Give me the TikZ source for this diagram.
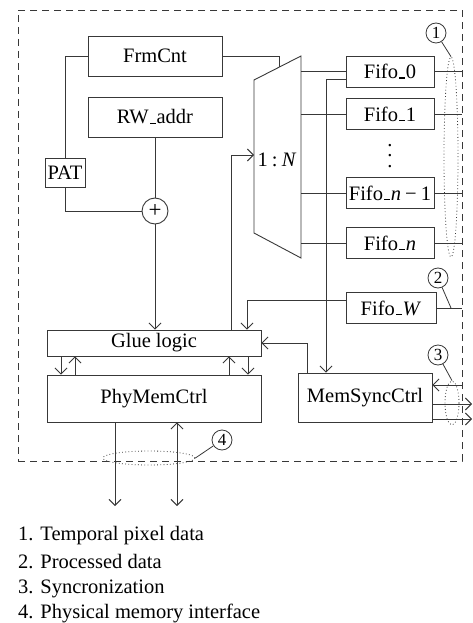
\documentclass[tikz,border=0pt]{standalone}
\usepackage{fontspec}
\setmainfont{Liberation Serif}
\usetikzlibrary{arrows.meta, shapes.geometric, calc}
\newcommand{\usc}{\leavevmode\kern.06em\vbox{\hrule width.3em height.07em}\kern.02em}

\begin{document}
\begin{tikzpicture}[
    x=1pt, y=-1pt,
    font=\fontsize{20.5}{24}\selectfont,
    wire/.style={draw=black!78, line width=0.9pt},
    blk/.style={draw=black!78, line width=0.9pt, inner sep=0pt, minimum width=134pt},
    fifo/.style={blk, minimum width=88pt, minimum height=31pt},
    tag/.style={circle, draw=black!78, line width=0.8pt, inner sep=0pt, minimum size=20pt, font=\fontsize{17}{19}\selectfont},
    ring/.style={ellipse, draw=black!78, line width=0.8pt, dash pattern=on 0.8pt off 2.4pt, inner sep=0pt},
    legend/.style={anchor=base west, inner sep=0pt},
    >={Straight Barb[length=6pt, width=12pt]}
]
    \useasboundingbox (0,0) rectangle (473,623);
    \node[draw=black!78, line width=0.9pt, dash pattern=on 7pt off 5pt, inner sep=0pt,
        minimum width=444pt, minimum height=451pt] (chip) at (240,235.5) {};

    \node[blk, minimum height=40pt] (frm) at (155,56)  {FrmCnt};
    \node[blk, minimum height=40pt] (rw)  at (155,117) {RW\usc addr};
    \node[blk, minimum width=40pt, minimum height=29pt] (pat) at (65,172.5) {PAT};
    \node[circle, draw=black!78, line width=0.9pt, minimum size=26pt, inner sep=0pt,
        font=\fontsize{23}{24}\selectfont] (plus) at (155,211) {+};
    \node[blk, minimum width=214pt, minimum height=26pt] (glue) at (154,343)   {Glue logic};
    \node[blk, minimum width=214pt, minimum height=47pt] (phy)  at (154,398.5) {PhyMemCtrl};

    \coordinate (muxTL) at (254,80);
    \coordinate (muxTR) at (301,56);
    \coordinate (muxBR) at (301,258);
    \coordinate (muxBL) at (254,233);
    \draw[wire] (muxTL) -- (muxTR) -- (muxBR) -- (muxBL) -- cycle;
    \node[inner sep=0pt] (muxlbl) at (277,160) {1\hspace{0.2em}:\hspace{0.2em}\textit{N}};
    \coordinate (muxtop) at ($(muxTL)!0.55!(muxTR)$);
    \coordinate (muxin) at (254,155);

    \node[fifo] (fifo0)  at (390,71.5) {Fifo\usc 0};
    \node[fifo] (fifo1)  at (390,114)  {Fifo\usc 1};
    \node[align=center, inner sep=0pt, font=\fontsize{20.5}{10.5}\selectfont] (vdots) at (390,156) {.\\.\\.};
    \node[fifo] (fifon1) at (390,193)  {Fifo\usc\textit{n}\hspace{0.2em}−\hspace{0.2em}1};
    \node[fifo] (fifon)  at (390,243)  {Fifo\usc\textit{n}};
    \node[fifo, minimum width=90pt] (fifoW) at (391,308) {Fifo\usc\textit{W}};
    \node[blk, minimum height=49pt] (sync) at (365,397.5) {MemSyncCtrl};

    \node[ring, minimum width=14pt, minimum height=200pt] (ring1) at (451,157) {};
    \node[ring, minimum width=14pt, minimum height=44pt]  (ring3) at (452,403) {};
    \node[ring, minimum width=92pt, minimum height=14pt]  (ring4) at (149,458) {};
    \node[tag] (t1) at (436,33)  {1};
    \node[tag] (t2) at (438,278) {2};
    \node[tag] (t3) at (438,355) {3};
    \node[tag] (t4) at (222,440) {4};

    \draw[wire] (frm.west) -| (pat.north);
    \draw[wire] (pat.south) |- (plus.west);
    \draw[wire] (rw.south) -- (plus.north);
    \draw[wire, ->] (plus.south) -- (plus.south |- glue.north);
    \draw[wire] (frm.east) -| (muxtop);
    \draw[wire, ->] ([xshift=77pt]glue.north) |- (muxin);
    \foreach \f in {fifo0, fifo1, fifon1, fifon} {
        \draw[wire] (\f.west -| muxTR) -- (\f.west);
        \draw[wire] (\f.east) -- (\f.east -| chip.east);
    }
    \draw[wire, ->] ([yshift=-7.5pt]fifo0.west) -| ([xshift=-39pt]sync.north);
    \draw[wire, ->] ([yshift=8pt]fifoW.west) -| ([xshift=93pt]glue.north);
    \draw[wire] (fifoW.east) -- (fifoW.east -| chip.east);
    \draw[wire, ->] ([xshift=-58pt]sync.north) |- (glue.east);

    \foreach \dx/\tip in {-93/->, -79/<-, 75/<-, 94/->}
        \draw[wire, \tip] ([xshift=\dx pt]glue.south) -- ([xshift=\dx pt]phy.north);

    \coordinate (pout1) at (115,506);
    \coordinate (pout2) at (177,506);
    \draw[wire, ->] (phy.south -| pout1) -- (pout1);
    \draw[wire, <->] (phy.south -| pout2) -- (pout2);

    \coordinate (sout) at (472,0);
    \draw[wire, <-] ([yshift=12.5pt]sync.east) -- ([yshift=12.5pt]sync.east -| chip.east);
    \draw[wire, ->] ([yshift=-6.5pt]sync.east) -- ([yshift=-6.5pt]sync.east -| sout);
    \draw[wire, ->] ([yshift=-21.5pt]sync.east) -- ([yshift=-21.5pt]sync.east -| sout);

    \draw[wire, line width=0.8pt] (t1) -- (ring1.north);
    \draw[wire, line width=0.8pt] (t2) -- (fifoW.east -| ring1);
    \draw[wire, line width=0.8pt] (t3) -- (ring3.north);
    \draw[wire, line width=0.8pt] (t4) -- (ring4.east);

    \node[legend] (leg1) at (18,540) {1. Temporal pixel data};
    \node[legend] (leg2) at (18,568) {2. Processed data};
    \node[legend] (leg3) at (18,593) {3. Syncronization};
    \node[legend] (leg4) at (18,618) {4. Physical memory interface};
\end{tikzpicture}
\end{document}
